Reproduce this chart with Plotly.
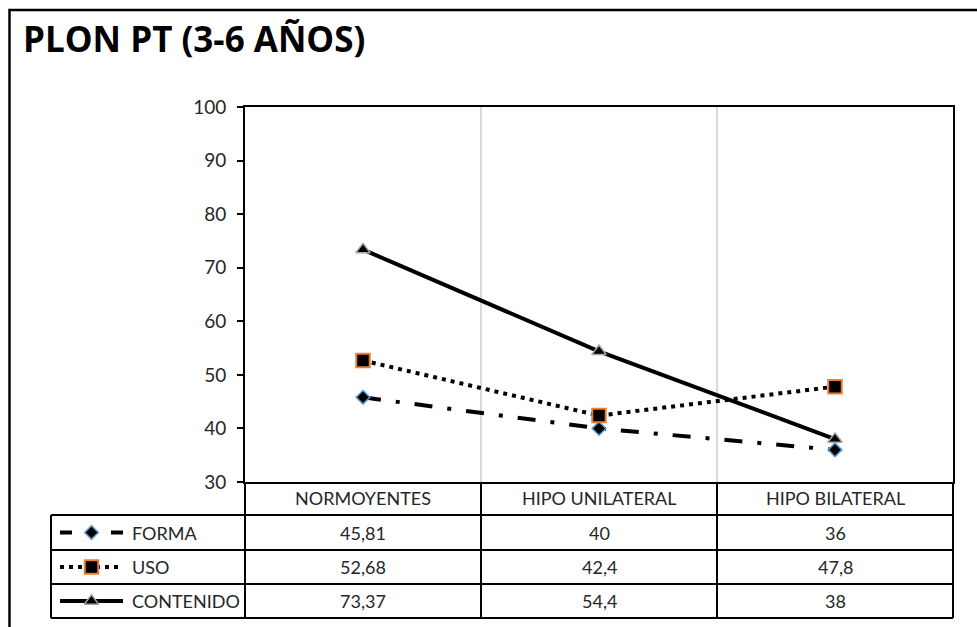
import plotly.graph_objects as go

W, H = 977, 627

# ---- data -------------------------------------------------------------
categories = ["NORMOYENTES", "HIPO UNILATERAL", "HIPO BILATERAL"]
series_names = ["FORMA", "USO", "CONTENIDO"]
forma = [45.81, 40, 36]
uso = [52.68, 42.4, 47.8]
contenido = [73.37, 54.4, 38]
y_ticks = [30, 40, 50, 60, 70, 80, 90, 100]
title_text = "PLON PT (3-6 AÑOS)"

series_values = [forma, uso, contenido]

# ---- geometry (pixels) ------------------------------------------------
PLOT_L, PLOT_R, PLOT_T, PLOT_B = 245, 953, 107, 482
ROW_EDGES = [482, 515, 550, 584, 618]
LEG_L = 51
KEY_X0, KEY_X1, KEY_MID = 60, 123, 91.5
FONT = "Lato"
TXT = "#262626"


def px(x):
    return x / W


def py(y):
    return 1 - y / H


styles = {
    "FORMA": dict(
        line=dict(color="black", width=4, dash="18px,15px,4px,15px"),
        marker=dict(symbol="diamond", size=10.5, color="black",
                    line=dict(color="#5B9BD5", width=1.5)),
        key_dash="12px,39px,12px",
    ),
    "USO": dict(
        line=dict(color="black", width=4, dash="4px,5px"),
        marker=dict(symbol="square", size=13.5, color="black",
                    line=dict(color="#ED7D31", width=2)),
        key_dash="4px,5px",
    ),
    "CONTENIDO": dict(
        line=dict(color="black", width=4, dash="solid"),
        marker=dict(symbol="triangle-up", size=12.5, color="black",
                    line=dict(color="#A5A5A5", width=1.5)),
        key_dash="solid",
    ),
}

fig = go.Figure()

xs = list(range(len(categories)))
for name, vals in zip(series_names, series_values):
    st = styles[name]
    fig.add_trace(go.Scatter(
        x=xs, y=vals, mode="lines+markers", name=name,
        line=st["line"], marker=st["marker"], showlegend=False,
        xaxis="x", yaxis="y", hoverinfo="skip",
    ))

# legend keys drawn inside the data table (pixel-space overlay axes)
row_centers = [(ROW_EDGES[i] + ROW_EDGES[i + 1]) / 2 for i in range(len(ROW_EDGES) - 1)]
for i, name in enumerate(series_names):
    st = styles[name]
    yc = row_centers[i + 1]
    fig.add_trace(go.Scatter(
        x=[KEY_X0, KEY_X1], y=[yc, yc], mode="lines",
        line=dict(color="black", width=4, dash=st["key_dash"]),
        xaxis="x2", yaxis="y2", showlegend=False, hoverinfo="skip",
    ))
    fig.add_trace(go.Scatter(
        x=[KEY_MID], y=[yc], mode="markers",
        marker=st["marker"], xaxis="x2", yaxis="y2",
        showlegend=False, hoverinfo="skip",
    ))

shapes = []
line_k = dict(color="black", width=2)
# horizontal table rules
for yy in ROW_EDGES[1:]:
    shapes.append(dict(type="line", xref="paper", yref="paper",
                       x0=px(LEG_L), x1=px(PLOT_R), y0=py(yy), y1=py(yy), line=line_k))
# vertical table rules
shapes.append(dict(type="line", xref="paper", yref="paper",
                   x0=px(LEG_L), x1=px(LEG_L), y0=py(ROW_EDGES[1]), y1=py(ROW_EDGES[-1]), line=line_k))
for xx in [PLOT_L, PLOT_R]:
    shapes.append(dict(type="line", xref="paper", yref="paper",
                       x0=px(xx), x1=px(xx), y0=py(ROW_EDGES[0]), y1=py(ROW_EDGES[-1]), line=line_k))
for b in [i + 0.5 for i in range(len(categories) - 1)]:
    shapes.append(dict(type="line", xref="x", yref="paper",
                       x0=b, x1=b, y0=py(ROW_EDGES[0]), y1=py(ROW_EDGES[-1]), line=line_k))
# outer chart frame
shapes.append(dict(type="rect", xref="paper", yref="paper",
                   x0=px(9.5), x1=px(W + 20), y0=py(10), y1=py(H + 20),
                   line=dict(color="black", width=2.5)))

annotations = []
annotations.append(dict(text=f"<b>{title_text}</b>", x=px(21), y=py(39),
                        xref="paper", yref="paper", xanchor="left", yanchor="middle",
                        showarrow=False, font=dict(family="Open Sans", size=35, color="black")))
# table header and values
for j, cat in enumerate(categories):
    annotations.append(dict(text=cat, x=j, y=py(row_centers[0]), xref="x", yref="paper",
                            xanchor="center", yanchor="middle", showarrow=False,
                            font=dict(family=FONT, size=18, color=TXT)))
for i, (name, vals) in enumerate(zip(series_names, series_values)):
    yc = py(row_centers[i + 1])
    annotations.append(dict(text=name, x=px(130), y=yc, xref="paper", yref="paper",
                            xanchor="left", yanchor="middle", showarrow=False,
                            font=dict(family=FONT, size=18, color=TXT)))
    for j, v in enumerate(vals):
        annotations.append(dict(text=f"{v:g}".replace(".", ","), x=j, y=yc,
                                xref="x", yref="paper", xanchor="center", yanchor="middle",
                                showarrow=False, font=dict(family=FONT, size=18, color=TXT)))

fig.update_layout(
    template="none",
    width=W, height=H,
    autosize=False,
    margin=dict(l=0, r=0, t=0, b=0, pad=0, autoexpand=False),
    paper_bgcolor="white",
    plot_bgcolor="rgba(0,0,0,0)",
    showlegend=False,
    xaxis=dict(domain=[px(PLOT_L), px(PLOT_R)], range=[-0.5, len(categories) - 0.5],
               tickvals=[i + 0.5 for i in range(len(categories) - 1)],
               showticklabels=False, ticks="", showgrid=True, gridcolor="#d9d9d9",
               gridwidth=2, zeroline=False, showline=True, mirror=True,
               linecolor="black", linewidth=2, fixedrange=True, automargin=False),
    yaxis=dict(domain=[py(PLOT_B), py(PLOT_T)], range=[y_ticks[0], y_ticks[-1]],
               tickvals=y_ticks, ticks="outside", ticklen=6, tickwidth=2,
               tickcolor="black", showgrid=False, zeroline=False, showline=True,
               mirror=True, linecolor="black", linewidth=2,
               tickfont=dict(family=FONT, size=19, color=TXT), ticklabelstandoff=7,
               fixedrange=True, automargin=False),
    xaxis2=dict(domain=[0, 1], range=[0, W], visible=False, anchor="y2",
                fixedrange=True, automargin=False),
    yaxis2=dict(domain=[0, 1], range=[H, 0], visible=False, anchor="x2",
                fixedrange=True, automargin=False),
    shapes=shapes,
    annotations=annotations,
)

fig.write_html("out.html")
